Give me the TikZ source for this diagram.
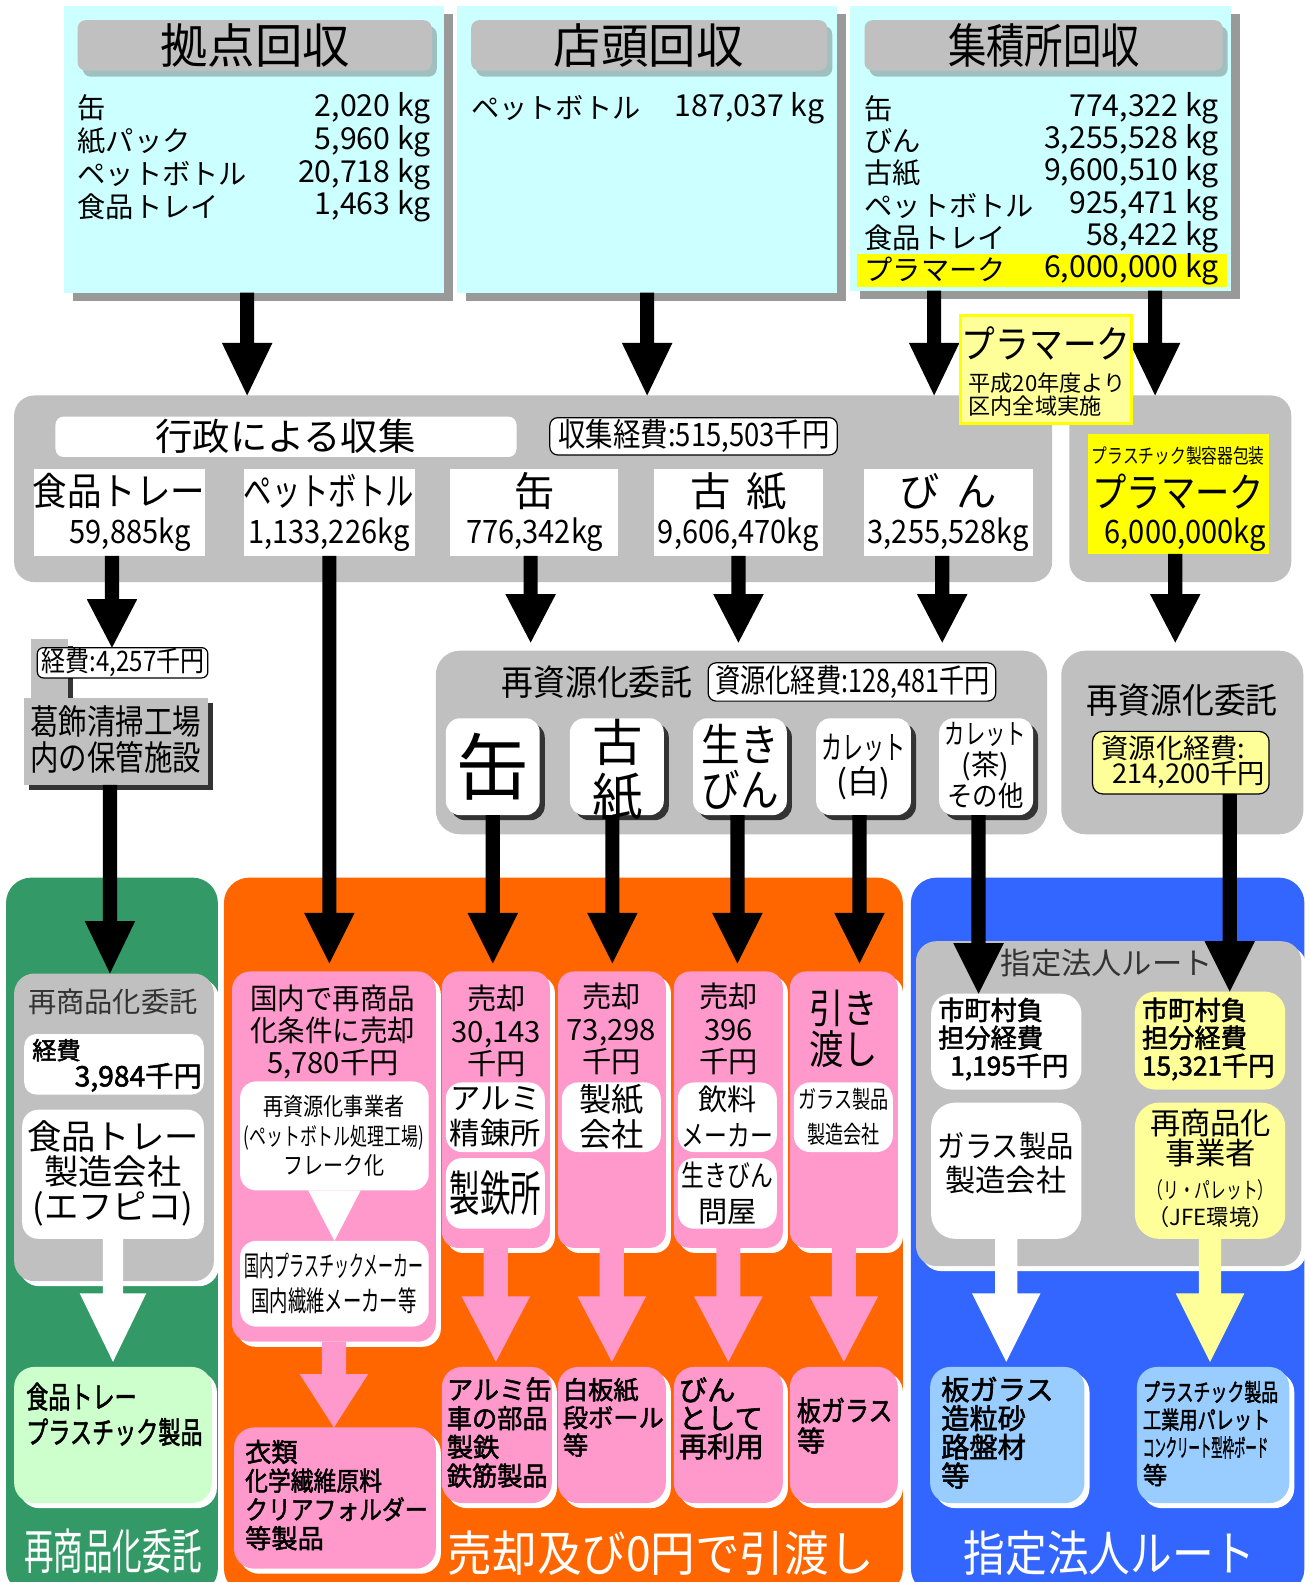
\documentclass[tikz,border=0pt]{standalone}
\usepackage{fontspec}
\setmainfont{Noto Sans CJK JP}
\newfontfamily\jb[FakeBold=2]{Noto Sans CJK JP}
\usepackage{graphicx}
\usetikzlibrary{arrows.meta,fit,shadows,calc}
\definecolor{cyanbg}{HTML}{CCFFFF}
\definecolor{shg}{HTML}{999999}
\definecolor{cg}{HTML}{C0C0C0}
\definecolor{tbsh}{HTML}{A0C0C0}
\definecolor{yel}{HTML}{FFFF00}
\definecolor{ly}{HTML}{FFFF99}
\definecolor{grn}{HTML}{339966}
\definecolor{org}{HTML}{FF6600}
\definecolor{blu}{HTML}{3366FF}
\definecolor{pnk}{HTML}{FF99CC}
\definecolor{lgr}{HTML}{CCFFCC}
\definecolor{lbl}{HTML}{99CCFF}
\definecolor{dk}{HTML}{333333}
\newcommand\fz[2]{\fontsize{#1pt}{#2pt}\selectfont}
\newcommand\hs[2]{\scalebox{#1}[1]{#2}}
% block arrow: from, to, half shaft, half head, head length, style
\newcommand\barr[6]{\fill[#6] ($(#1)+(-#3,0)$) -- ($(#2)+(-#3,-#5)$) -- ($(#2)+(-#4,-#5)$) -- (#2) -- ($(#2)+(#4,-#5)$) -- ($(#2)+(#3,-#5)$) -- ($(#1)+(#3,0)$) -- cycle;}
\tikzset{
 t/.style={inner sep=0pt,outer sep=0pt},
 bx/.style={inner sep=0pt,outer sep=0pt,rectangle},
 wsh/.style={drop shadow={shadow xshift=2.5pt,shadow yshift=-2.5pt,fill=white,opacity=1}},
 dsh/.style={drop shadow={shadow xshift=2.5pt,shadow yshift=-2.5pt,fill=dk,opacity=1}},
 gsh/.style={drop shadow={shadow xshift=4.5pt,shadow yshift=-4pt,fill=shg,opacity=1}},
 tsh/.style={drop shadow={shadow xshift=2.5pt,shadow yshift=-3pt,fill=tbsh,opacity=1}},
 topbox/.style={bx,fill=cyanbg,gsh},
 tbar/.style={bx,fill=cg,rounded corners=4pt,tsh},
 wbox/.style={bx,fill=white,draw=black,line width=0.6pt,rounded corners=4pt},
 kbox/.style={bx,fill=white,rounded corners=7pt,dsh},
 pcol/.style={bx,fill=pnk,rounded corners=8pt,wsh},
 inw/.style={bx,fill=white,rounded corners=8pt},
}
\begin{document}
\lineskiplimit=-100pt
\begin{tikzpicture}[x=0.5pt,y=-0.5pt]
\fill[white] (0,0) rectangle (1308,1582);

% ---------- top boxes ----------
\node[topbox,fit={(63,6)(440,290)}] (b1) {};
\node[tbar,fit={(77,20)(428,70)}] (tb1) {};
\node[t,font=\fz{23.5}{27}] (tt1) at (253,45) {拠点回収};
\node[t,anchor=west,align=left,font=\fz{14}{16.25}] (i1l) at (77,156) {缶\\紙パック\\ペットボトル\\食品トレイ};
\node[t,anchor=east,align=right,font=\fz{15}{16.25}] (i1r) at (427,156) {2,020 kg\\5,960 kg\\20,718 kg\\1,463 kg};

\node[topbox,fit={(453,6)(830,290)}] (b2) {};
\node[tbar,fit={(467,20)(820,70)}] (tb2) {};
\node[t,font=\fz{23.5}{27}] (tt2) at (643,45) {店頭回収};
\node[t,anchor=west,font=\fz{14}{16.25}] (i2l) at (467,107) {ペットボトル};
\node[t,anchor=east,font=\fz{15}{16.25}] (i2r) at (817,107) {187,037 kg};

\node[topbox,fit={(843,6)(1220,288)}] (b3) {};
\node[tbar,fit={(857,20)(1212,70)}] (tb3) {};
\node[t,font=\fz{23.5}{27}] (tt3) at (1035,45) {\hs{0.81}{集積所回収}};
\fill[yel] (850,252) rectangle (1216,284);
\node[t,anchor=west,align=left,font=\fz{14}{16}] (i3l) at (857,187) {缶\\びん\\古紙\\ペットボトル\\食品トレイ\\プラマーク};
\node[t,anchor=east,align=right,font=\fz{15}{16}] (i3r) at (1208,187) {774,322 kg\\3,255,528 kg\\9,600,510 kg\\925,471 kg\\58,422 kg\\6,000,000 kg};

% ---------- middle collection panel ----------
\node[bx,fill=cg,rounded corners=10pt,fit={(14,392)(1043,577)}] (gp) {};
\node[bx,fill=white,rounded corners=4pt,fit={(55,413)(512,453)}] (gw) {};
\node[t,font=\fz{18.5}{20}] (gwt) at (283,433) {行政による収集};
\node[wbox,fit={(545,414)(830,451)}] (gc) {};
\node[t,font=\fz{16}{18}] (gct) at (688,432) {\hs{0.85}{収集経費:515,503千円}};

\node[bx,fill=white,fit={(34,465)(203,551)}] (it1) {};
\node[t,font=\fz{19}{20}] (it1a) at (118,487) {\hs{0.9}{食品トレー}};
\node[t,font=\fz{16}{18}] (it1b) at (129,530) {\hs{0.9}{59,885kg}};
\node[bx,fill=white,fit={(242,465)(411,551)}] (it2) {};
\node[t,font=\fz{19}{20}] (it2a) at (326,487) {\hs{0.74}{ペットボトル}};
\node[t,font=\fz{16}{18}] (it2b) at (326,530) {\hs{0.9}{1,133,226kg}};
\node[bx,fill=white,fit={(446,465)(613,551)}] (it3) {};
\node[t,font=\fz{20}{20}] (it3a) at (530,487) {缶};
\node[t,font=\fz{16}{18}] (it3b) at (530,530) {\hs{0.9}{776,342kg}};
\node[bx,fill=white,fit={(648,465)(816,551)}] (it4) {};
\node[t,font=\fz{20}{20}] (it4a) at (732,487) {古\hspace{0.4em}紙};
\node[t,font=\fz{16}{18}] (it4b) at (732,530) {\hs{0.9}{9,606,470kg}};
\node[bx,fill=white,fit={(856,465)(1024,551)}] (it5) {};
\node[t,font=\fz{20}{20}] (it5a) at (940,487) {び\hspace{0.4em}ん};
\node[t,font=\fz{16}{18}] (it5b) at (940,530) {\hs{0.9}{3,255,528kg}};

\node[bx,fill=cg,rounded corners=10pt,fit={(1060,392)(1280,577)}] (rp2) {};
\node[bx,fill=yel,fit={(1078,430)(1258,549)}] (yb) {};
\node[t,font=\fz{10}{12}] (ybt1) at (1168,452) {\hs{0.78}{プラスチック製容器包装}};
\node[t,font=\fz{20}{20}] (ybt2) at (1168,487) {\hs{0.85}{プラマーク}};
\node[t,font=\fz{16}{18}] (ybt3) at (1175,530) {\hs{0.9}{6,000,000kg}};

% ---------- left storage ----------
\fill[cg] (31,633) rectangle (67,692);
\fill[dk] (67,640) rectangle (72,692);
\node[wbox,rounded corners=3pt,fit={(37,642)(206,672)}] (kb) {};
\node[t,font=\fz{14}{16}] (kbt) at (122,657) {\hs{0.85}{経費:4,257千円}};
\node[bx,fill=cg,dsh,fit={(24,692)(206,778)}] (kz) {};
\node[t,anchor=west,align=left,font=\fz{17}{17.5}] (kzt) at (30,733) {\hs{0.83}{葛飾清掃工場}\\\hs{0.83}{内の保管施設}};

% ---------- middle recycling panel ----------
\node[bx,fill=cg,rounded corners=12pt,fit={(432,645)(1038,827)}] (rm) {};
\node[t,font=\fz{17.5}{18}] (rmt) at (592,676) {\hs{0.9}{再資源化委託}};
\node[wbox,fit={(702,657)(987,695)}] (rc) {};
\node[t,font=\fz{16}{18}] (rct) at (845,676) {\hs{0.78}{資源化経費:128,481千円}};
\node[kbox,fit={(442,712)(535,808)}] (k1) {};
\node[t,font=\fz{36}{36}] (k1t) at (489,760) {缶};
\node[kbox,fit={(565,712)(658,808)}] (k2) {};
\node[t,align=center,font=\fz{25}{26.5}] (k2t) at (612,763) {古\\紙};
\node[kbox,fit={(687,712)(780,808)}] (k3) {};
\node[t,align=center,font=\fz{22}{22}] (k3t) at (734,760) {\hs{0.87}{生き}\\\hs{0.87}{びん}};
\node[kbox,fit={(809,712)(903,808)}] (k4) {};
\node[t,align=center,font=\fz{16}{17}] (k4t) at (856,760) {\hs{0.65}{カレット}\\(白)};
\node[kbox,fit={(931,712)(1024,808)}] (k5) {};
\node[t,align=center,font=\fz{14}{15.5}] (k5t) at (977,759) {\hs{0.72}{カレット}\\(茶)\\\hs{0.9}{その他}};

\node[bx,fill=cg,rounded corners=12pt,fit={(1052,645)(1292,827)}] (rp3) {};
\node[t,font=\fz{17.5}{18}] (rp3t) at (1172,694) {\hs{0.9}{再資源化委託}};
\node[wbox,fill=ly,rounded corners=5pt,fit={(1083,725)(1258,787)}] (ry) {};
\node[t,anchor=west,font=\fz{13.5}{14}] (ryt1) at (1092,742) {資源化経費:};
\node[t,anchor=east,font=\fz{13.5}{14}] (ryt2) at (1254,768) {214,200千円};

% ---------- bottom panels ----------
\node[bx,fill=grn,rounded corners=12.5pt,fit={(6,870)(216,1580)}] (gpan) {};
\node[bx,fill=org,rounded corners=12.5pt,fit={(222,870)(895,1580)}] (opan) {};
\node[bx,fill=blu,rounded corners=12.5pt,fit={(903,870)(1293,1580)}] (bpan) {};

% green column
\node[bx,fill=cg,rounded corners=10pt,wsh,fit={(14,965)(212,1270)}] (g1) {};
\node[t,font=\fz{14}{16},text=dk] (g1t) at (112,993) {再商品化委託};
\node[inw,rounded corners=6pt,fit={(24,1025)(202,1085)}] (g2) {};
\node[t,anchor=west,font=\jb\fz{12}{14}] (g2t1) at (32,1041) {経費};
\node[t,anchor=east,font=\jb\fz{14}{16}] (g2t2) at (200,1068) {3,984千円};
\node[inw,fit={(22,1100)(202,1228)}] (g3) {};
\node[t,align=center,font=\fz{17}{17.5}] (g3t) at (112,1163) {食品トレー\\製造会社\\(エフピコ)};
\node[bx,fill=lgr,rounded corners=10pt,wsh,fit={(14,1355)(210,1490)}] (g4) {};
\node[t,anchor=west,align=left,font=\jb\fz{15}{17.5}] (g4t) at (26,1402) {\hs{0.73}{食品トレー}\\\hs{0.73}{プラスチック製品}};
\node[t,font=\fz{24}{24},text=white] (gbt) at (112,1538) {\hs{0.61}{再商品化委託}};

% orange column
\node[pcol,rounded corners=9pt,fit={(230,963)(432,1330)}] (p1) {};
\node[t,align=center,font=\fz{14.5}{15.75}] (p1t) at (330,1023) {\hs{0.94}{国内で再商品}\\\hs{0.94}{化条件に売却}\\5,780千円};
\node[inw,fit={(238,1072)(425,1180)}] (p1w1) {};
\node[t,align=center,font=\fz{12}{14.5}] (p1w1t) at (331,1126) {\hs{0.83}{再資源化事業者}\\\hs{0.7}{(ペットボトル処理工場)}\\\hs{0.83}{フレーク化}};
\node[inw,fit={(238,1230)(425,1315)}] (p1w2) {};
\node[t,align=center,font=\fz{14}{17.5}] (p1w2t) at (331,1272) {\hs{0.53}{国内プラスチックメーカー}\\\hs{0.65}{国内繊維メーカー等}};
\fill[white] ($(p1w1.south)+(-26,0)$) -- ($(p1w1.south)+(26,0)$) -- (p1w2.north) -- cycle;
\node[pcol,rounded corners=10pt,fit={(232,1415)(432,1555)}] (p2) {};
\node[t,anchor=west,align=left,font=\jb\fz{13}{14.25}] (p2t) at (243,1482) {衣類\\\hs{0.87}{化学繊維原料}\\\hs{0.87}{クリアフォルダー}\\等製品};

\node[pcol,fit={(438,963)(545,1237)}] (c1) {};
\node[t,align=center,font=\fz{14.5}{16}] (c1t) at (492,1022) {売却\\30,143\\千円};
\node[inw,fit={(442,1073)(540,1142)}] (c1a) {};
\node[t,align=center,font=\fz{15}{17.5}] (c1at) at (491,1107) {アルミ\\精錬所};
\node[inw,fit={(442,1148)(540,1218)}] (c1b) {};
\node[t,font=\fz{24}{24}] (c1bt) at (491,1183) {\hs{0.63}{製鉄所}};

\node[pcol,fit={(553,963)(660,1237)}] (c2) {};
\node[t,align=center,font=\fz{14.5}{16}] (c2t) at (606,1020) {売却\\73,298\\千円};
\node[inw,fit={(557,1073)(655,1142)}] (c2a) {};
\node[t,align=center,font=\fz{16}{17.5}] (c2at) at (606,1107) {製紙\\会社};

\node[pcol,fit={(668,963)(776,1237)}] (c3) {};
\node[t,align=center,font=\fz{14.5}{16}] (c3t) at (722,1020) {売却\\396\\千円};
\node[inw,fit={(672,1073)(770,1142)}] (c3a) {};
\node[t,align=center,font=\fz{14.5}{17.5}] (c3at) at (721,1107) {飲料\\\hs{0.78}{メーカー}};
\node[inw,fit={(672,1148)(770,1218)}] (c3b) {};
\node[t,align=center,font=\fz{14.5}{17.5}] (c3bt) at (721,1183) {\hs{0.78}{生きびん}\\問屋};

\node[pcol,fit={(783,963)(890,1237)}] (c4) {};
\node[t,align=center,font=\fz{20}{20}] (c4t) at (836,1020) {\hs{0.85}{引き}\\\hs{0.85}{渡し}};
\node[inw,fit={(787,1073)(885,1142)}] (c4a) {};
\node[t,align=center,font=\fz{12}{17.5}] (c4at) at (836,1107) {\hs{0.75}{ガラス製品}\\\hs{0.75}{製造会社}};

\node[pcol,rounded corners=10pt,fit={(438,1355)(547,1490)}] (r1) {};
\node[t,anchor=west,align=left,font=\jb\fz{13}{14.25}] (r1t) at (443,1420) {アルミ缶\\\hs{0.96}{車の部品}\\製鉄\\\hs{0.96}{鉄筋製品}};
\node[pcol,rounded corners=10pt,fit={(553,1355)(660,1490)}] (r2) {};
\node[t,anchor=west,align=left,font=\jb\fz{12.5}{13.75}] (r2t) at (558,1405) {白板紙\\段ボール\\等};
\node[pcol,rounded corners=10pt,fit={(668,1355)(776,1490)}] (r3) {};
\node[t,anchor=west,align=left,font=\jb\fz{14}{14}] (r3t) at (673,1406) {びん\\として\\再利用};
\node[pcol,rounded corners=10pt,fit={(783,1355)(890,1490)}] (r4) {};
\node[t,anchor=west,align=left,font=\jb\fz{14}{15}] (r4t) at (790,1413) {\hs{0.85}{板ガラス}\\等};
\node[t,font=\fz{24}{24},text=white] (obt) at (655,1540) {\hs{0.92}{売却及び0円で引渡し}};

% blue column
\node[bx,fill=cg,rounded corners=10pt,wsh,fit={(908,933)(1290,1255)}] (bg) {};
\node[t,font=\fz{15}{16},text=dk] (bgt) at (1097,955) {指定法人ルート};
\node[inw,rounded corners=10pt,fit={(923,985)(1072,1080)}] (bw1) {};
\node[t,anchor=west,align=left,font=\jb\fz{13}{13.75}] (bw1t) at (930,1030) {市町村負\\担分経費\\\hspace*{6pt}1,195千円};
\node[bx,fill=ly,rounded corners=10pt,fit={(1125,983)(1274,1080)}] (by1) {};
\node[t,anchor=west,align=left,font=\jb\fz{13}{13.75}] (by1t) at (1132,1030) {市町村負\\担分経費\\15,321千円};
\node[inw,rounded corners=12pt,fit={(923,1093)(1072,1228)}] (bw2) {};
\node[t,align=center,font=\fz{15}{16.5}] (bw2t) at (997,1153) {\hs{0.9}{ガラス製品}\\製造会社};
\node[bx,fill=ly,rounded corners=12pt,fit={(1125,1093)(1274,1228)}] (by2) {};
\node[t,align=center,font=\fz{15}{15}] (by2t1) at (1200,1128) {再商品化\\事業者};
\node[t,align=center,font=\fz{11}{13.5}] (by2t2) at (1200,1193) {\hs{0.71}{（リ・パレット）}\\（JFE環境）};
\node[bx,fill=lbl,rounded corners=10pt,wsh,fit={(922,1355)(1075,1490)}] (bb1) {};
\node[t,anchor=west,align=left,font=\jb\fz{14}{14.25}] (bb1t) at (933,1420) {板ガラス\\造粒砂\\路盤材\\等};
\node[bx,fill=lbl,rounded corners=10pt,wsh,fit={(1127,1355)(1278,1490)}] (bb2) {};
\node[t,anchor=west,align=left,font=\jb\fz{12}{13.75}] (bb2t) at (1133,1421) {\hs{0.7}{プラスチック製品}\\\hs{0.75}{工業用パレット}\\\hs{0.47}{コンクリート型枠ボード}\\等};
\node[t,font=\fz{24}{24},text=white] (bbt) at (1100,1540) {\hs{0.86}{指定法人ルート}};

% ---------- black arrows ----------
\coordinate (a1s) at ([xshift=-3.25pt]b1.south);
\coordinate (a1e) at (a1s |- gp.north);
\coordinate (a2s) at (b2.south);
\coordinate (a2e) at (a2s |- gp.north);
\coordinate (a3s) at ([xshift=-52.75pt]b3.south);
\coordinate (a3e) at (a3s |- gp.north);
\coordinate (a4s) at ([xshift=56.75pt]b3.south);
\coordinate (a4e) at (a4s |- rp2.north);
\barr{a1s}{a1e}{7}{25}{52}{black}
\barr{a2s}{a2e}{7}{25}{52}{black}
\barr{a3s}{a3e}{7}{25}{52}{black}
\barr{a4s}{a4e}{7}{25}{52}{black}

\coordinate (m1s) at ([xshift=-3.75pt]it1.south);
\coordinate (m1e) at (m1s |- kb.north);
\barr{m1s}{m1e}{7}{25}{48}{black}
\coordinate (m2s) at (it2.south);
\coordinate (m2t) at (m2s |- p1.north);
\coordinate (m2e) at ([yshift=4pt]m2t);
\barr{m2s}{m2e}{7}{25}{50}{black}
\coordinate (m3s) at ([xshift=-1.75pt]it3.south);
\coordinate (m3t) at (m3s |- rm.north);
\coordinate (m3e) at ([yshift=4pt]m3t);
\barr{m3s}{m3e}{7}{25}{48}{black}
\coordinate (m4s) at (it4.south);
\coordinate (m4t) at (m4s |- rm.north);
\coordinate (m4e) at ([yshift=4pt]m4t);
\barr{m4s}{m4e}{7}{25}{48}{black}
\coordinate (m5s) at ([xshift=-3pt]it5.south);
\coordinate (m5t) at (m5s |- rm.north);
\coordinate (m5e) at ([yshift=4pt]m5t);
\barr{m5s}{m5e}{7}{25}{48}{black}
\coordinate (m6s) at ([xshift=-1.5pt]yb.south);
\coordinate (m6t) at (m6s |- rp3.north);
\coordinate (m6e) at ([yshift=4pt]m6t);
\barr{m6s}{m6e}{7}{25}{48}{black}

\coordinate (l1s) at ([xshift=-3pt]kz.south);
\coordinate (l1e) at (l1s |- g1.north);
\barr{l1s}{l1e}{7}{25}{52}{black}
\coordinate (l2s) at (k1.south);
\coordinate (l2t) at (l2s |- c1.north);
\coordinate (l2e) at ([yshift=4pt]l2t);
\barr{l2s}{l2e}{7}{25}{50}{black}
\coordinate (l3s) at ([xshift=-2.25pt]k2.south);
\coordinate (l3t) at (l3s |- c2.north);
\coordinate (l3e) at ([yshift=4pt]l3t);
\barr{l3s}{l3e}{7}{25}{50}{black}
\coordinate (l4s) at ([xshift=-1.25pt]k3.south);
\coordinate (l4t) at (l4s |- c3.north);
\coordinate (l4e) at ([yshift=4pt]l4t);
\barr{l4s}{l4e}{7}{25}{50}{black}
\coordinate (l5s) at ([xshift=-2pt]k4.south);
\coordinate (l5t) at (l5s |- c4.north);
\coordinate (l5e) at ([yshift=4pt]l5t);
\barr{l5s}{l5e}{7}{25}{50}{black}
\coordinate (l6s) at ([xshift=-3.75pt]k5.south);
\coordinate (l6e) at (l6s |- bw1.north);
\barr{l6s}{l6e}{7}{25}{50}{black}
\coordinate (l7s) at ([xshift=24.25pt]ry.south);
\coordinate (l7e) at (l7s |- by1.north);
\barr{l7s}{l7e}{7}{25}{50}{black}

% ---------- block arrows ----------
\coordinate (w1s) at (g3.south);
\coordinate (w1t) at (w1s |- g4.north);
\coordinate (w1e) at ([yshift=2.5pt]w1t);
\barr{w1s}{w1e}{10}{33}{68}{white}
\coordinate (w2s) at (bw2.south);
\coordinate (w2t) at (w2s |- bb1.north);
\coordinate (w2e) at ([yshift=2.5pt]w2t);
\barr{w2s}{w2e}{11}{34}{68}{white}
\coordinate (y1s) at (by2.south);
\coordinate (y1t) at (y1s |- bb2.north);
\coordinate (y1e) at ([yshift=2.5pt]y1t);
\barr{y1s}{y1e}{11}{34}{68}{ly}
\coordinate (q0s) at (p1.south);
\coordinate (q0e) at (q0s |- p2.north);
\barr{q0s}{q0e}{12}{34}{53}{pnk}
\coordinate (q1s) at (c1.south);
\coordinate (q1t) at (q1s |- r1.north);
\coordinate (q1e) at ([yshift=2.5pt]q1t);
\barr{q1s}{q1e}{12}{34}{65}{pnk}
\coordinate (q2s) at (c2.south);
\coordinate (q2t) at (q2s |- r2.north);
\coordinate (q2e) at ([yshift=2.5pt]q2t);
\barr{q2s}{q2e}{12}{34}{65}{pnk}
\coordinate (q3s) at (c3.south);
\coordinate (q3t) at (q3s |- r3.north);
\coordinate (q3e) at ([yshift=2.5pt]q3t);
\barr{q3s}{q3e}{12}{34}{65}{pnk}
\coordinate (q4s) at (c4.south);
\coordinate (q4t) at (q4s |- r4.north);
\coordinate (q4e) at ([yshift=2.5pt]q4t);
\barr{q4s}{q4e}{12}{34}{65}{pnk}

% ---------- plamark label ----------
\node[bx,fill=ly,draw=yel,line width=1.5pt,fit={(952,313)(1122,420)}] (pl) {};
\node[t,font=\fz{19}{20}] (plt1) at (1037,340) {\hs{0.88}{プラマーク}};
\node[t,anchor=west,align=left,font=\fz{11}{11.5}] (plt2) at (960,391) {平成20年度より\\区内全域実施};

\pgfresetboundingbox
\path[use as bounding box] (0,0) rectangle (1296.6,1568.2);
\end{tikzpicture}
\end{document}
